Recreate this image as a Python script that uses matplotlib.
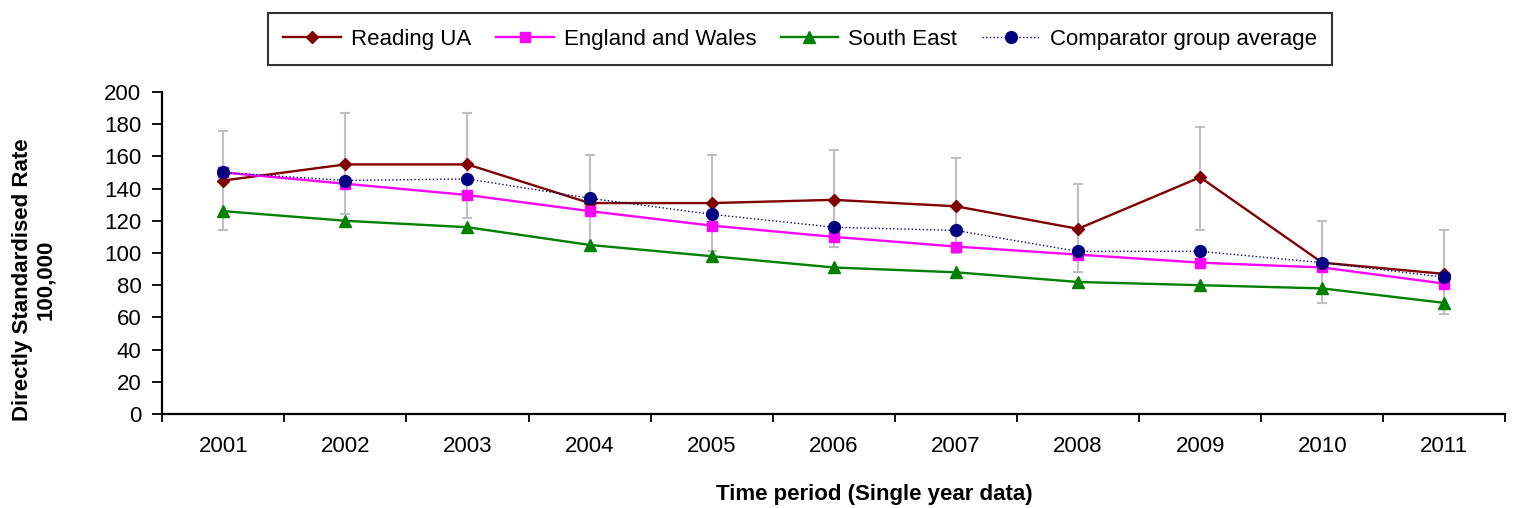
#!/usr/bin/env python3
"""
Directly standardised rate per 100,000, single year data 2001-2011.
Reading UA with 95% CI vs England and Wales, South East and comparator group.
"""

import matplotlib
matplotlib.use("Agg")
import numpy as np
import matplotlib.pyplot as plt

years = ["2001", "2002", "2003", "2004", "2005", "2006",
         "2007", "2008", "2009", "2010", "2011"]

reading_ua = [145, 155, 155, 131, 131, 133, 129, 115, 147, 94, 87]
reading_lower = [114, 124, 122, 101, 101, 104, 100, 88, 114, 69, 62]
reading_upper = [176, 187, 187, 161, 161, 164, 159, 143, 178, 120, 114]

england_wales = [150, 143, 136, 126, 117, 110, 104, 99, 94, 91, 81]
south_east = [126, 120, 116, 105, 98, 91, 88, 82, 80, 78, 69]
comparator_avg = [150, 145, 146, 134, 124, 116, 114, 101, 101, 94, 85]


def main():
    plt.rcParams['font.family'] = ['Liberation Sans', 'DejaVu Sans']

    fig = plt.figure(figsize=(15.16, 5.08), dpi=100)
    ax = fig.add_axes([0.107, 0.185, 0.886, 0.634])

    x = np.arange(len(years))
    lo = np.array(reading_ua) - np.array(reading_lower)
    hi = np.array(reading_upper) - np.array(reading_ua)

    # CI whiskers for Reading UA, kept behind the series
    ax.errorbar(x, reading_ua, yerr=[lo, hi], fmt='none', ecolor='#c0c0c0',
                elinewidth=1.5, capsize=3.8, capthick=1.5, zorder=1)

    ax.plot(x, reading_ua, color='#800000', linewidth=1.7, marker='D',
            markersize=6.5, label='Reading UA', zorder=3)
    ax.plot(x, england_wales, color='#ff00ff', linewidth=1.7, marker='s',
            markersize=6.5, label='England and Wales', zorder=3)
    ax.plot(x, south_east, color='#008000', linewidth=1.7, marker='^',
            markersize=8.5, label='South East', zorder=3)
    ax.plot(x, comparator_avg, color='#000080', linewidth=1.0, linestyle=':',
            marker='o', markersize=8.5, label='Comparator group average', zorder=4)

    ax.set_xlim(-0.5, len(years) - 0.5)
    ax.set_ylim(0, 200)
    ax.set_yticks(np.arange(0, 201, 20))

    # category axis: labels at centres, tick marks between categories
    ax.set_xticks(x)
    ax.set_xticklabels(years, fontsize=16)
    ax.set_xticks(np.arange(-0.5, len(years), 1.0), minor=True)
    ax.tick_params(axis='x', which='major', length=0, pad=16)
    ax.tick_params(axis='x', which='minor', length=6, width=1.3, direction='out')
    ax.tick_params(axis='y', labelsize=16, length=7, width=1.3, pad=8,
                   direction='out')

    for side in ['top', 'right']:
        ax.spines[side].set_visible(False)
    ax.spines['left'].set_linewidth(1.6)
    ax.spines['bottom'].set_linewidth(1.6)

    fig.text(0.5765, 0.026, 'Time period (Single year data)', fontsize=16,
             fontweight='bold', ha='center', va='center')
    fig.text(0.0225, 0.449, 'Directly Standardised Rate\n100,000', fontsize=16,
             fontweight='bold', rotation=90, ha='center', va='center',
             multialignment='center', linespacing=1.15)

    leg = fig.legend(loc='center', bbox_to_anchor=(0.5277, 0.923), ncol=4,
                     fontsize=16, frameon=True, fancybox=False,
                     edgecolor='black', handlelength=2.6, columnspacing=1.1,
                     borderpad=0.7, handletextpad=0.45)
    leg.get_frame().set_linewidth(1.5)

    fig.savefig('out.png', dpi=100)
    plt.close(fig)


if __name__ == "__main__":
    main()
